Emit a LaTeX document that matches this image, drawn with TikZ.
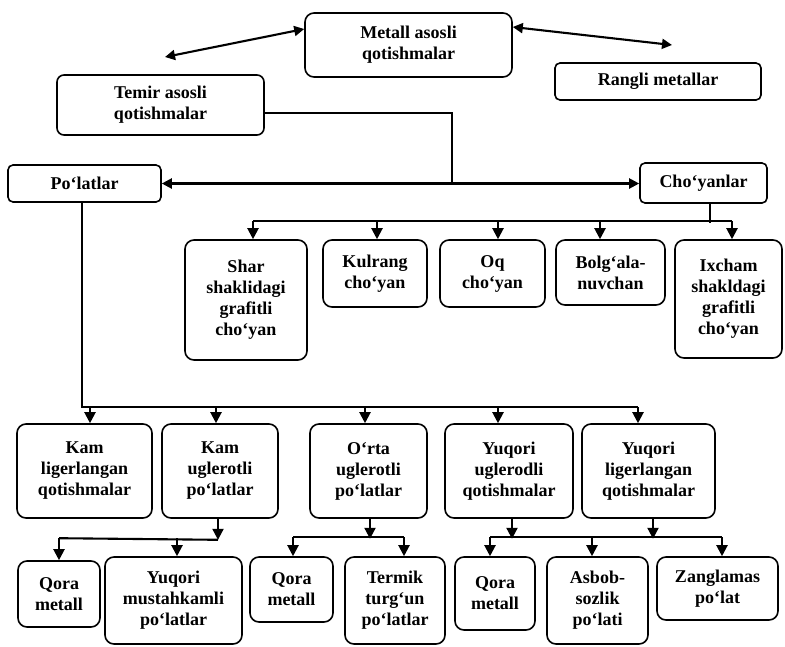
\documentclass[tikz,border=0pt]{standalone}
\usepackage{fontspec}
\setmainfont{Liberation Serif}
\usetikzlibrary{arrows.meta,calc}
\newcommand\drawbox[7][]{\node[box,#1,minimum width={(#4-#2)*1pt},minimum height={(#5-#3)*1pt}] (#6) at ({(#2+#4)/2},{(#3+#5)/2}) {#7};}
\newcommand\downarr[3]{\draw[arr] ($(#1.north)+(#2,-#3)$) -- ($(#1.north)+(#2,0)$);}
\begin{document}
\begin{tikzpicture}[x=1pt,y=-1pt,
  box/.style={draw,line width=1.6pt,rounded corners=9pt,align=center,inner sep=1pt,
    font=\bfseries\fontsize{18}{21}\selectfont},
  small/.style={rounded corners=5pt},
  conn/.style={line width=2.1pt},
  arr/.style={conn,-{Triangle[length=11pt,width=11pt]}},
  dbl/.style={conn,{Triangle[length=10pt,width=10pt]}-{Triangle[length=10pt,width=10pt]}}]
\useasboundingbox (0,0) rectangle (785,646);

% top level
\drawbox{305}{13}{512}{77}{M}{Metall asosli\\qotishmalar}
\drawbox[rounded corners=7pt]{57}{75}{264}{135}{T}{Temir asosli\\qotishmalar}
\drawbox[small]{555}{63}{761}{100}{R}{Rangli metallar}
\drawbox[small]{8}{165}{161}{202}{P}{Po‘latlar}
\drawbox[small]{640}{163}{767}{203}{C}{Cho‘yanlar}

% cast iron children
\drawbox{185}{240}{307}{360}{S}{Shar\\shaklidagi\\grafitli\\cho‘yan}
\drawbox{323}{240}{427}{307}{K}{Kulrang\\cho‘yan}
\drawbox{440}{240}{545}{307}{Oq}{Oq\\cho‘yan}
\drawbox{556}{240}{665}{305}{B}{Bolg‘ala-\\nuvchan}
\drawbox{675}{240}{782}{358}{I}{Ixcham\\shakldagi\\grafitli\\cho‘yan}

% steel children
\drawbox{17}{424}{152}{518}{K1}{Kam\\ligerlangan\\qotishmalar}
\drawbox{162}{424}{278}{518}{K2}{Kam\\uglerotli\\po‘latlar}
\drawbox{310}{424}{427}{518}{O}{O‘rta\\uglerotli\\po‘latlar}
\drawbox{445}{424}{573}{518}{Y1}{Yuqori\\uglerodli\\qotishmalar}
\drawbox{582}{424}{715}{518}{Y2}{Yuqori\\ligerlangan\\qotishmalar}

% bottom row
\drawbox{18}{561}{100}{627}{Q1}{Qora\\metall}
\drawbox{105}{557}{242}{644}{YM}{Yuqori\\mustahkamli\\po‘latlar}
\drawbox{250}{557}{333}{622}{Q2}{Qora\\metall}
\drawbox{345}{557}{445}{644}{TM}{Termik\\turg‘un\\po‘latlar}
\drawbox{455}{557}{535}{630}{Q3}{Qora\\metall}
\drawbox{547}{557}{648}{644}{AS}{Asbob-\\sozlik\\po‘lati}
\drawbox{657}{557}{778}{620}{Z}{Zanglamas\\po‘lat}

% top connectors
\coordinate (la) at (165,57);
\coordinate (ra) at (672,45);
\draw[dbl] ([yshift=16pt]M.west) -- (la);
\draw[dbl] ([yshift=18pt]M.east) -- (ra);
\coordinate (j) at (452,183);
\draw[conn] ([yshift=-8pt]T.east) -| (j);
\draw[dbl] (P.east) -- (P.east -| C.west);

% cast iron branch
\draw[conn] ([xshift=6.5pt]C.south) -- ++(0,19);
\draw[conn] ($(S.north)+(7,-18)$) -- ($(I.north)+(3.5,-18)$);
\downarr{S}{7}{18}
\downarr{K}{2}{18}
\downarr{Oq}{5.5}{18}
\downarr{B}{-10.5}{18}
\downarr{I}{3.5}{18}

% steel branch
\draw[conn] ([xshift=-2.5pt]P.south) |- ($(Y2.north)+(-10.5,-16)$);
\downarr{K1}{5.5}{16}
\downarr{K2}{-4}{16}
\downarr{O}{-3.5}{16}
\downarr{Y1}{-11}{16}
\downarr{Y2}{-10.5}{16}

% bottom branches
\draw[arr] ([xshift=-2pt]K2.south) -- ++(0,21);
\draw[conn] ($(Q1.north)+(0,-22)$) -- ($(K2.south)+(-2,21)$);
\downarr{Q1}{0}{22}
\downarr{YM}{3.5}{18}

\draw[arr] ([xshift=1.5pt]O.south) -- ++(0,20);
\draw[conn] ($(Q2.north)+(1.5,-19)$) -- ($(TM.north)+(9,-19)$);
\downarr{Q2}{1.5}{19}
\downarr{TM}{9}{19}

\draw[arr] ([xshift=3pt]Y1.south) -- ++(0,20);
\draw[arr] ([xshift=4.5pt]Y2.south) -- ++(0,20);
\draw[conn] ($(Q3.north)+(-5,-19)$) -- ($(Z.north)+(4.5,-19)$);
\downarr{Q3}{-5}{19}
\downarr{AS}{-5.5}{19}
\downarr{Z}{4.5}{19}
\end{tikzpicture}
\end{document}
